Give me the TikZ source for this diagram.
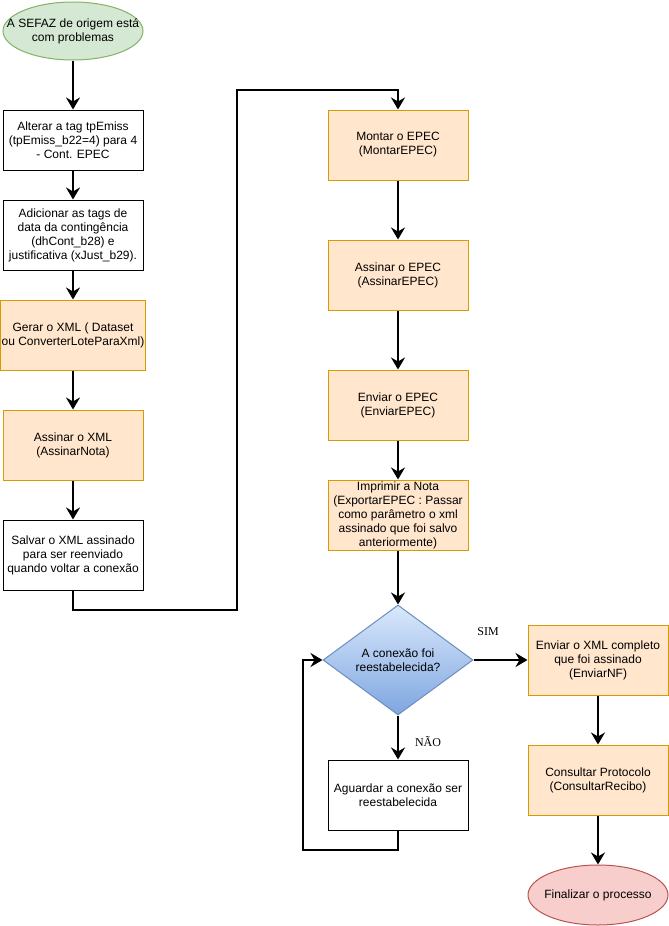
\documentclass[tikz,border=0pt]{standalone}
\usepackage{fontspec}
\setmainfont{Liberation Sans}
\newfontfamily\serifface{Liberation Serif}
\usetikzlibrary{shapes.geometric,arrows.meta}
\definecolor{gfill}{HTML}{D5E8D4}
\definecolor{gline}{HTML}{82B366}
\definecolor{ofill}{HTML}{FFE6CC}
\definecolor{oline}{HTML}{D79B00}
\definecolor{btop}{HTML}{DAE8FC}
\definecolor{bbot}{HTML}{7EA6E0}
\definecolor{bline}{HTML}{6C8EBF}
\definecolor{rfill}{HTML}{F8CECC}
\definecolor{rline}{HTML}{B85450}
\begin{document}
\begin{tikzpicture}[x=1pt,y=-1pt,
  every node/.style={font=\fontsize{12}{14}\selectfont},
  box/.style={draw=black, fill=white, line width=1pt, minimum width=140pt, minimum height=70pt, align=center, inner sep=1pt},
  obox/.style={box, draw=oline, fill=ofill},
  term/.style={ellipse, line width=1pt, minimum width=140pt, minimum height=58pt, align=center, inner xsep=-20pt, inner ysep=0pt},
  arr/.style={line width=2.5pt, -{Stealth[length=12pt,width=14pt,inset=4pt]}},
  lbl/.style={font=\serifface\fontsize{12}{14}\selectfont}
]
\useasboundingbox (0,0) rectangle (669,926);

\node[term, draw=gline, fill=gfill] (s) at (73,31) {A SEFAZ de origem está\\com problemas};
\node[box, minimum height=60pt] (b1) at (73,140) {Alterar a tag tpEmiss\\(tpEmiss\_b22=4) para 4\\- Cont. EPEC};
\node[box] (b2) at (73,235) {Adicionar as tags de\\data da contingência\\(dhCont\_b28) e\\justificativa (xJust\_b29).};
\node[obox] (b3) at (73,335) {Gerar o XML ( Dataset\\ou ConverterLoteParaXml)};
\node[obox] (b4) at (73,445) {Assinar o XML\\(AssinarNota)};
\node[box] (b5) at (73,555) {Salvar o XML assinado\\para ser reenviado\\quando voltar a conexão};

\node[obox] (m) at (398,145) {Montar o EPEC\\(MontarEPEC)};
\node[obox] (ae) at (398,275) {Assinar o EPEC\\(AssinarEPEC)};
\node[obox] (ee) at (398,405) {Enviar o EPEC\\(EnviarEPEC)};
\node[obox] (im) at (398,515) {Imprimir a Nota\\(ExportarEPEC : Passar\\como parâmetro o xml\\assinado que foi salvo\\anteriormente)};

\node[diamond, draw=bline, line width=1pt, top color=btop, bottom color=bbot, minimum width=150pt, minimum height=110pt, inner sep=0pt, align=center] (d) at (398,660) {A conexão foi\\reestabelecida?};
\node[box] (ag) at (398,795) {Aguardar a conexão ser\\reestabelecida};

\node[obox] (en) at (598,660) {Enviar o XML completo\\que foi assinado\\(EnviarNF)};
\node[obox] (cp) at (598,780) {Consultar Protocolo\\(ConsultarRecibo)};
\node[term, draw=rline, fill=rfill, minimum height=60pt] (f) at (598,895) {Finalizar o processo};

\node[lbl] (sim) at (488,632) {SIM};
\node[lbl] (nao) at (428,742) {NÃO};

\coordinate (c1) at (237,610);
\coordinate (c2) at (237,90);
\coordinate (l1) at (303,850);

\draw[arr] (s) -- (b1);
\draw[arr] (b1) -- (b2);
\draw[arr] (b2) -- (b3);
\draw[arr] (b3) -- (b4);
\draw[arr] (b4) -- (b5);
\draw[arr] (b5.south) |- (c1) -- (c2) -| (m.north);
\draw[arr] (m) -- (ae);
\draw[arr] (ae) -- (ee);
\draw[arr] (ee) -- (im);
\draw[arr] (im) -- (d);
\draw[arr] (d) -- (ag);
\draw[arr] (d) -- (en);
\draw[arr] (ag.south) |- (l1) |- (d.west);
\draw[arr] (en) -- (cp);
\draw[arr] (cp) -- (f);
\end{tikzpicture}
\end{document}
